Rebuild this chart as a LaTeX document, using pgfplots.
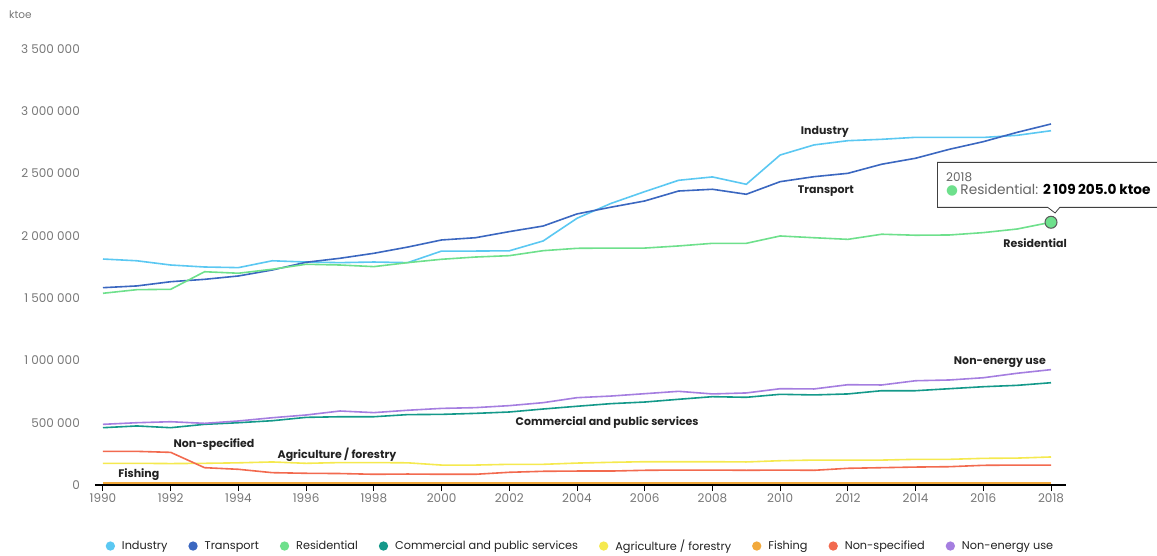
\documentclass[border=0pt]{standalone}
\usepackage{pgfplots}
\usepackage{pgfplotstable}
\pgfplotsset{compat=1.18}
\usetikzlibrary{shapes.callouts}
\usepackage{fontspec}
\setmainfont{Poppins}
\newfontfamily\symfont{DejaVu Sans}

\definecolor{cInd}{HTML}{5BC8F2}
\definecolor{cTra}{HTML}{3B67C0}
\definecolor{cRes}{HTML}{6EE08C}
\definecolor{cCom}{HTML}{14998A}
\definecolor{cAgr}{HTML}{F5E94F}
\definecolor{cFis}{HTML}{F2A93B}
\definecolor{cNsp}{HTML}{F26A4F}
\definecolor{cNen}{HTML}{A57EE0}
\definecolor{tickgray}{HTML}{777777}
\definecolor{gridgray}{HTML}{E6E6E6}
\definecolor{labdark}{HTML}{222222}

\pgfplotstableread{
year ind tra res com agr fis nsp nen
1990 1814000 1584000 1539000 460000 174000 16000 270000 487000
1991 1800000 1598000 1568000 474000 174000 16000 270000 500000
1992 1766000 1632000 1571000 460000 172000 16000 262000 508000
1993 1750000 1651000 1712000 487000 174000 16000 139000 495000
1994 1745000 1678000 1700000 500000 178000 16000 126000 514000
1995 1800000 1726000 1732000 516000 185000 16000 99000 540000
1996 1790000 1788000 1772000 543000 174000 16000 94000 562000
1997 1785000 1820000 1766000 548000 180000 16000 92000 594000
1998 1790000 1860000 1753000 548000 180000 16000 86000 581000
1999 1785000 1910000 1785000 565000 178000 16000 88000 600000
2000 1878000 1967000 1812000 567000 160000 16000 86000 615000
2001 1878000 1985000 1830000 575000 160000 16000 86000 621000
2002 1880000 2034000 1841000 586000 166000 16000 102000 637000
2003 1959000 2079000 1881000 610000 166000 16000 110000 661000
2004 2141000 2176000 1900000 632000 176000 16000 112000 701000
2005 2260000 2230000 1902000 653000 182000 16000 112000 714000
2006 2355000 2280000 1902000 666000 187000 16000 118000 733000
2007 2446000 2360000 1919000 688000 187000 16000 120000 752000
2008 2473000 2374000 1940000 709000 187000 16000 120000 731000
2009 2414000 2334000 1940000 704000 185000 16000 118000 739000
2010 2649000 2435000 1999000 728000 195000 16000 120000 773000
2011 2730000 2475000 1985000 723000 200000 16000 118000 771000
2012 2764000 2502000 1972000 731000 200000 16000 134000 805000
2013 2775000 2575000 2013000 757000 200000 16000 139000 803000
2014 2791000 2623000 2005000 757000 206000 16000 144000 837000
2015 2790000 2695000 2007000 773000 206000 16000 147000 843000
2016 2790000 2756000 2026000 789000 214000 16000 158000 861000
2017 2807000 2831000 2055000 800000 216000 16000 160000 897000
2018 2844000 2898000 2109205 821000 225000 16000 160000 926000
}\datatable

\begin{document}
\begin{tikzpicture}
\useasboundingbox (0,0) rectangle (1157pt,555pt);
\node[font=\fontsize{10.5}{12}\selectfont, text=tickgray, anchor=west, inner sep=0pt] at (9pt,540pt) {ktoe};
\begin{axis}[
  scale only axis,
  width=971pt, height=436pt,
  at={(95pt,70pt)}, anchor=south west,
  xmin=1989.764, xmax=2018.443,
  ymin=0, ymax=3500000,
  clip=false,
  axis y line=none,
  axis x line*=bottom,
  x axis line style={black, line width=1.2pt, -},
  xtick={1990,1992,...,2018},
  xticklabels={1990,1992,1994,1996,1998,2000,2002,2004,2006,2008,2010,2012,2014,2016,2018},
  major tick length=6pt,
  xtick style={black, line width=1pt},
  tick align=outside,
  xticklabel style={text=tickgray, font=\fontsize{12}{14}\selectfont, yshift=1pt},
  ytick={0,500000,1000000,1500000,2000000,2500000,3000000,3500000},
  ymajorgrids,
  grid style={gridgray, line width=0.8pt},
  legend columns=8,
  legend style={at={(0.5,-0.14)}, anchor=center, draw=none, fill=none,
    font=\fontsize{11.3}{13}\selectfont, text=labdark,
    /tikz/every odd column/.append style={column sep=5pt},
    /tikz/every even column/.append style={column sep=19pt}},
  legend image code/.code={\fill[#1] (0pt,0pt) circle (3.8pt);},
  every axis plot/.append style={line width=1.6pt},
]
\addplot[cInd] table[x=year,y=ind]{\datatable};
\addlegendentry{Industry}
\addplot[cTra] table[x=year,y=tra]{\datatable};
\addlegendentry{Transport}
\addplot[cRes] table[x=year,y=res]{\datatable};
\addlegendentry{Residential}
\addplot[cCom] table[x=year,y=com]{\datatable};
\addlegendentry{Commercial and public services}
\addplot[cAgr] table[x=year,y=agr]{\datatable};
\addlegendentry{Agriculture / forestry}
\addplot[cFis] table[x=year,y=fis]{\datatable};
\addlegendentry{Fishing}
\addplot[cNsp] table[x=year,y=nsp]{\datatable};
\addlegendentry{Non-specified}
\addplot[cNen] table[x=year,y=nen]{\datatable};
\addlegendentry{Non-energy use}
\addplot[forget plot, only marks, mark=*, mark size=6pt, mark options={fill=cRes, draw=black!65, line width=1pt}] coordinates {(2018,2109205)};

\foreach \v/\t in {0/0,500000/500 000,1000000/1 000 000,1500000/1 500 000,2000000/2 000 000,2500000/2 500 000,3000000/3 000 000,3500000/3 500 000}{
  \edef\tmp{\noexpand\node[anchor=east, text=tickgray, font=\noexpand\fontsize{12}{14}\noexpand\selectfont, inner sep=0pt] at (axis cs:1989.764,\v) {\t\noexpand\hspace*{15pt}};}
  \tmp
}

\begin{scope}[every node/.style={font=\bfseries\fontsize{11}{13}\selectfont, text=labdark, inner sep=0pt}]
\node at (axis cs:2011.32,2834000) {Industry};
\node at (axis cs:2011.35,2360000) {Transport};
\node at (axis cs:2017.53,1943000) {Residential};
\node at (axis cs:2016.49,987000) {Non-energy use};
\node at (axis cs:2004.89,498000) {Commercial and public services};
\node at (axis cs:1993.28,321000) {Non-specified};
\node at (axis cs:1996.91,241000) {Agriculture / forestry};
\node at (axis cs:1991.06,80000) {Fishing};
\end{scope}

\node[rectangle callout, draw=black!75, line width=0.8pt, fill=white, anchor=north west,
  callout absolute pointer={(axis cs:2018.12,2183600)}, callout pointer width=12pt,
  align=left, inner xsep=7pt, inner ysep=5pt, minimum width=222pt, minimum height=45pt,
  font=\fontsize{13.7}{15}\selectfont, text=black!60]
  at (axis cs:2014.633,2593000)
  {{\fontsize{12}{13}\selectfont 2018}\\[-2pt]{\symfont\color{cRes}●}\,Residential: \textcolor{black}{\bfseries 2\,109\,205.0 ktoe}};
\end{axis}
\end{tikzpicture}
\end{document}
